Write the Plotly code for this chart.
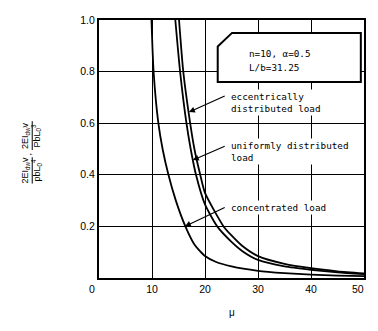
import plotly.graph_objects as go

# ---- data ----
conc_mu = [9.9, 10.3, 11.2, 12.0, 13.1, 14.5, 16.3, 18.0, 20.0, 22.0, 25.0, 30.0, 35.0, 40.0, 45.0, 50.0]
conc_v = [1.0, 0.8, 0.6, 0.5, 0.4, 0.3, 0.2, 0.13, 0.085, 0.063, 0.045, 0.028, 0.019, 0.013, 0.009, 0.007]

unif_mu = [14.4, 15.3, 16.5, 17.3, 18.3, 20.0, 22.3, 25.0, 27.0, 30.0, 35.0, 40.0, 45.0, 50.0]
unif_v = [1.0, 0.8, 0.6, 0.5, 0.4, 0.285, 0.2, 0.14, 0.105, 0.07, 0.045, 0.032, 0.022, 0.015]

ecc_mu = [15.1, 15.9, 17.2, 18.0, 19.1, 20.0, 23.5, 25.0, 27.0, 30.0, 35.0, 40.0, 45.0, 50.0]
ecc_v = [1.0, 0.8, 0.6, 0.5, 0.4, 0.33, 0.2, 0.165, 0.125, 0.085, 0.055, 0.038, 0.026, 0.018]

x_ticks = [10, 20, 30, 40, 50]
y_ticks = [0.2, 0.4, 0.6, 0.8, 1.0]
y_tick_text = ["0.2", "0.4", "0.6", "0.8", "1.0"]

label_ecc = "eccentrically<br>distributed load"
label_unif = "uniformly distributed<br>load"
label_conc = "concentrated load"
box_line1 = "n=10, α=0.5"
box_line2 = "L/b=31.25"

MONO = "DejaVu Sans Mono"
SANS = "Liberation Sans, Arial"

fig = go.Figure()
for xs, ys in [(conc_mu, conc_v), (unif_mu, unif_v), (ecc_mu, ecc_v)]:
    fig.add_trace(go.Scatter(x=xs, y=ys, mode="lines",
                             line=dict(color="black", width=1.8, shape="spline", smoothing=0.6),
                             showlegend=False, hoverinfo="skip"))

# parameter box with chamfered corner
fig.add_shape(type="path",
              path="M 22.4,0.897 L 25.1,0.950 L 49.4,0.950 L 49.4,0.760 L 22.4,0.760 Z",
              xref="x", yref="y", line=dict(color="black", width=2), fillcolor="white", layer="above")

annotations = []
# box text
annotations.append(dict(x=27.85, y=0.872, xref="x", yref="y", text=box_line1, showarrow=False,
                        xanchor="left", yanchor="middle", font=dict(family=MONO, size=9.3, color="black")))
annotations.append(dict(x=27.85, y=0.814, xref="x", yref="y", text=box_line2, showarrow=False,
                        xanchor="left", yanchor="middle", font=dict(family=MONO, size=9.3, color="black")))
# curve labels
for txt, yy in [(label_ecc, 0.682), (label_unif, 0.492), (label_conc, 0.275)]:
    annotations.append(dict(x=24.6, y=yy, xref="x", yref="y", text=txt, showarrow=False,
                            xanchor="left", yanchor="middle", align="left", bgcolor="white",
                            font=dict(family=MONO, size=9.3, color="black")))
# arrows
for hx, hy, tx, ty in [(16.97, 0.643, 24.0, 0.708), (17.7, 0.457, 24.0, 0.513), (16.2, 0.2, 24.0, 0.276)]:
    annotations.append(dict(x=hx, y=hy, xref="x", yref="y", ax=tx, ay=ty, axref="x", ayref="y",
                            text="", showarrow=True, arrowhead=2, arrowsize=1, arrowwidth=1.2,
                            arrowcolor="black"))
# origin label, last x label and axis title
annotations.append(dict(x=-0.028, y=-0.043, xref="paper", yref="paper", text="0", showarrow=False,
                        xanchor="center", yanchor="middle", font=dict(family=SANS, size=10.5, color="black")))
annotations.append(dict(x=0.978, y=-0.043, xref="paper", yref="paper", text=str(x_ticks[-1]), showarrow=False,
                        xanchor="center", yanchor="middle", font=dict(family=SANS, size=10.5, color="black")))
annotations.append(dict(x=0.5, y=-0.132, xref="paper", yref="paper", text="μ", showarrow=False,
                        xanchor="center", yanchor="middle", font=dict(family=SANS, size=10, color="black")))
# y-axis title: two fractions, rotated
annotations.append(dict(x=-0.255, y=0.418, xref="paper", yref="paper",
                        text="2EI<sub>dw</sub>v<br>pbL<sub>0</sub><sup>4</sup>", showarrow=False,
                        textangle=-90, xanchor="center", yanchor="middle",
                        font=dict(family=SANS, size=9, color="black")))
annotations.append(dict(x=-0.268, y=0.482, xref="paper", yref="paper", text=",", showarrow=False,
                        textangle=-90, xanchor="center", yanchor="middle",
                        font=dict(family=SANS, size=9, color="black")))
annotations.append(dict(x=-0.255, y=0.552, xref="paper", yref="paper",
                        text="2EI<sub>dw</sub>v<br>PbL<sub>0</sub><sup>3</sup>", showarrow=False,
                        textangle=-90, xanchor="center", yanchor="middle",
                        font=dict(family=SANS, size=9, color="black")))

# fraction bars
fig.add_shape(type="line", xref="paper", yref="paper", x0=-0.252, x1=-0.252, y0=0.366, y1=0.468,
              line=dict(color="black", width=1))
fig.add_shape(type="line", xref="paper", yref="paper", x0=-0.252, x1=-0.252, y0=0.496, y1=0.608,
              line=dict(color="black", width=1))

fig.update_layout(
    width=378, height=331,
    margin=dict(l=99, r=12, t=20, b=53),
    paper_bgcolor="white", plot_bgcolor="white",
    annotations=annotations,
    xaxis=dict(range=[0, 50], tickvals=x_ticks[:-1], ticktext=[str(v) for v in x_ticks[:-1]],
               showgrid=True, gridcolor="black", gridwidth=1.4,
               showline=True, linecolor="black", linewidth=2, mirror=True,
               ticks="", zeroline=False,
               tickfont=dict(family=SANS, size=10.5, color="black")),
    yaxis=dict(range=[0, 1], tickvals=y_ticks, ticktext=y_tick_text,
               showgrid=True, gridcolor="black", gridwidth=1.4,
               showline=True, linecolor="black", linewidth=2, mirror=True,
               ticks="", zeroline=False,
               tickfont=dict(family=SANS, size=10.5, color="black")),
)

fig.write_html("out.html", config={"displayModeBar": False},
               post_script="document.body.style.margin='0';document.body.style.overflow='hidden';")
